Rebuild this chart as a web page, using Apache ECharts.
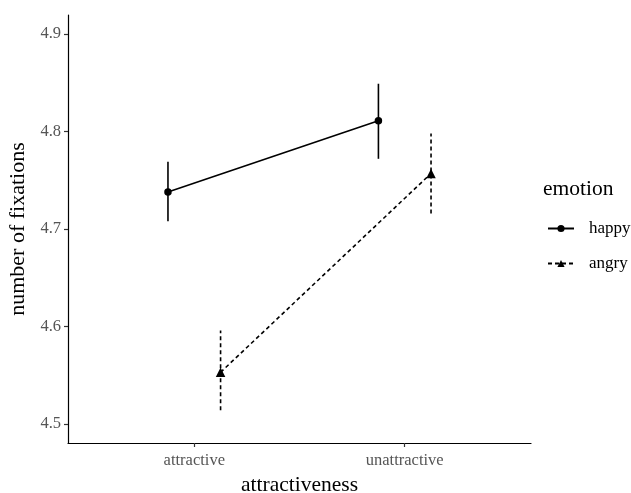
<!DOCTYPE html>
<html>
<head>
<meta charset="utf-8">
<script src="https://cdn.jsdelivr.net/npm/echarts@6/dist/echarts.min.js"></script>
<style>html,body{margin:0;padding:0;background:#fff}#c{width:631px;height:493px}</style>
</head>
<body>
<div id="c"></div>
<script>
const categories = ['attractive', 'unattractive'];
const emotions = ['happy', 'angry'];
const happyMean = [4.738, 4.811];
const happyLo = [4.708, 4.772];
const happyHi = [4.769, 4.849];
const angryMean = [4.553, 4.757];
const angryLo = [4.514, 4.716];
const angryHi = [4.596, 4.798];
const yTicks = [4.5, 4.6, 4.7, 4.8, 4.9];

const dodge = 0.125;
const FONT = '"Liberation Serif", "Times New Roman", serif';

function pts(mean, off) { return mean.map((v, i) => [i + 1 + off, v]); }
function bars(lo, hi, off) { return lo.map((v, i) => [i + 1 + off, v, hi[i]]); }

function errRender(dash) {
  return function (params, api) {
    const x = api.value(0);
    const p1 = api.coord([x, api.value(1)]);
    const p2 = api.coord([x, api.value(2)]);
    return {
      type: 'line',
      shape: { x1: p1[0], y1: p1[1], x2: p2[0], y2: p2[1] },
      style: { stroke: '#000', lineWidth: 1.6, lineDash: dash }
    };
  };
}

const chart = echarts.init(document.getElementById('c'), null, { renderer: 'canvas' });
chart.setOption({
  animation: false,
  backgroundColor: '#fff',
  grid: { left: 68, right: 100, top: 15, bottom: 50, containLabel: false, outerBoundsMode: 'none' },
  title: {
    text: 'emotion', left: 538, top: 173,
    textStyle: { fontFamily: FONT, fontSize: 21.5, fontWeight: 'normal', color: '#000' }
  },
  legend: {
    data: emotions, orient: 'vertical', left: 542, top: 215,
    itemWidth: 26, itemHeight: 9, itemGap: 18,
    textStyle: { fontFamily: FONT, fontSize: 17, color: '#000', padding: [0, 0, 0, 10] }
  },
  xAxis: {
    type: 'value', min: 0.4, max: 2.6,
    name: 'attractiveness', nameLocation: 'middle', nameGap: 29,
    nameTextStyle: { fontFamily: FONT, fontSize: 21.5, color: '#000' },
    splitLine: { show: false },
    axisLine: { show: true, onZero: false, lineStyle: { color: '#000', width: 1.2 } },
    axisTick: { show: true, length: 4, customValues: [1, 2], lineStyle: { color: '#333', width: 1.2 } },
    axisLabel: {
      customValues: [1, 2], margin: 9,
      formatter: v => categories[Math.round(v) - 1] || '',
      fontFamily: FONT, fontSize: 16.5, color: '#555'
    }
  },
  yAxis: {
    type: 'value', min: 4.4805, max: 4.9195,
    name: 'number of fixations', nameLocation: 'middle', nameGap: 30,
    nameTextStyle: { fontFamily: FONT, fontSize: 22, color: '#000' },
    splitLine: { show: false },
    axisLine: { show: true, onZero: false, lineStyle: { color: '#000', width: 1.2 } },
    axisTick: { show: true, length: 4, customValues: yTicks, lineStyle: { color: '#333', width: 1.2 } },
    axisLabel: {
      customValues: yTicks, margin: 7,
      formatter: v => v.toFixed(1),
      fontFamily: FONT, fontSize: 16.5, color: '#555'
    }
  },
  series: [
    {
      name: 'happy', type: 'line', data: pts(happyMean, -dodge),
      symbol: 'circle', symbolSize: 7.5, z: 3,
      itemStyle: { color: '#000' },
      lineStyle: { color: '#000', width: 1.6, type: 'solid' }
    },
    {
      name: 'angry', type: 'line', data: pts(angryMean, dodge),
      symbol: 'triangle', symbolSize: 9.5, z: 3,
      itemStyle: { color: '#000' },
      lineStyle: { color: '#000', width: 1.6, type: [4, 3] }
    },
    {
      type: 'custom', data: bars(happyLo, happyHi, -dodge), z: 2,
      renderItem: errRender(null), encode: { x: 0, y: [1, 2] }
    },
    {
      type: 'custom', data: bars(angryLo, angryHi, dodge), z: 2,
      renderItem: errRender([4, 3]), encode: { x: 0, y: [1, 2] }
    }
  ]
});
</script>
</body>
</html>
